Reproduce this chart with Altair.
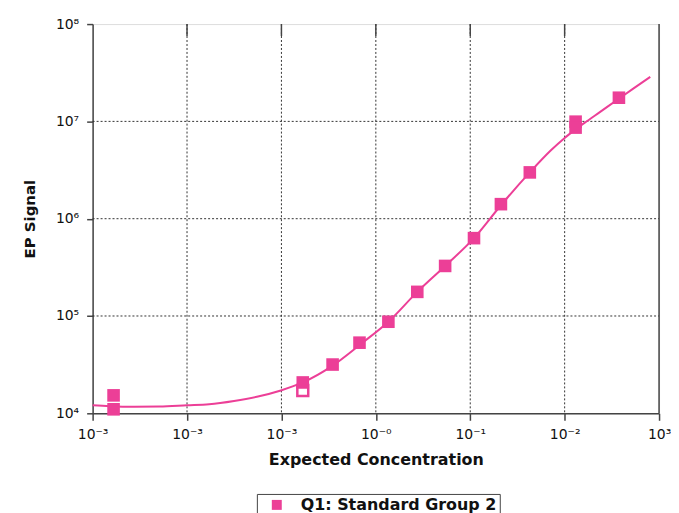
import altair as alt
import pandas as pd

PINK = "#EC3F97"
FONT = "DejaVu Sans"

# axis ticks and their printed labels (as they appear in the reference)
x_ticks = [1e-3, 1e-2, 1e-1, 1, 10, 100, 1000]
x_tick_labels = ["10⁻³", "10⁻³", "10⁻³", "10⁻⁰", "10⁻¹", "10⁻²", "10³"]
y_ticks = [1e4, 1e5, 1e6, 1e7, 1e8]
y_tick_labels = ["10⁴", "10⁵", "10⁶", "10⁷", "10⁸"]

series_name = "Q1: Standard Group 2"

# measured standards (filled squares)
pt_x = [0.001667, 0.001667, 0.1683, 0.3483, 0.6714, 1.358, 2.748, 5.42,
        10.96, 21.13, 42.76, 130.6, 130.6, 375.8]
pt_y = [15290, 10990, 20750, 31700, 53200, 87300, 177000, 327000,
        631000, 1410000, 2990000, 9930000, 8630000, 17500000]

# excluded standard (hollow square)
hollow_x = [0.1683]
hollow_y = [17180]

# fitted curve
curve_x = [0.001, 0.00151, 0.00277, 0.00509, 0.01, 0.01714, 0.0315, 0.055,
           0.0986, 0.1683, 0.3483, 0.6887, 1.358, 2.748, 5.42, 10.96, 21.13,
           42.76, 71.1, 100, 127.4, 162.4, 239.9, 362, 547, 807]
curve_y = [12080, 11850, 11710, 11740, 12080, 12370, 13370, 14790,
           17180, 20750, 30900, 51300, 87300, 177000, 327000, 631000,
           1374000, 2990000, 5010000, 6760000, 8130000, 9660000, 12600000,
           16700000, 22100000, 28700000]

pts = pd.DataFrame({"x": pt_x, "y": pt_y, "series": [series_name] * len(pt_x)})
hollow = pd.DataFrame({"x": hollow_x, "y": hollow_y})
curve = pd.DataFrame({"x": curve_x, "y": curve_y})
xgrid = pd.DataFrame({"x": x_ticks[1:-1]})
ygrid = pd.DataFrame({"y": y_ticks[1:-1]})
xright = pd.DataFrame({"x": x_ticks[-1:]})

W, H = 569, 391

xlab_expr = "[" + ",".join("'%s'" % s for s in x_tick_labels) + "][round(log(datum.value)/LN10)+3]"
ylab_expr = "[" + ",".join("'%s'" % s for s in y_tick_labels) + "][round(log(datum.value)/LN10)-4]"

xscale = alt.Scale(type="log", domain=[1e-3, 1e3], nice=False)
yscale = alt.Scale(type="log", domain=[1e4, 1e8], nice=False)

xaxis = alt.Axis(values=x_ticks, labelExpr=xlab_expr, title="Expected Concentration",
                 grid=False, tickSize=7, tickColor="#444", domainColor="#444",
                 domainWidth=1.5, tickWidth=1.5, labelPadding=7, labelFontSize=14,
                 labelFont=FONT, labelColor="#111", titleFont=FONT, titleFontSize=16,
                 titleFontWeight="bold", titleColor="#111", titlePadding=10,
                 labelFlush=False, labelOverlap=False, labelBound=False)
yaxis = alt.Axis(values=y_ticks, labelExpr=ylab_expr, title="EP Signal",
                 grid=False, tickSize=6, tickColor="#444", domainColor="#444",
                 domainWidth=1.5, tickWidth=1.5, labelPadding=8, labelFontSize=14,
                 labelFont=FONT, labelColor="#111", titleFont=FONT, titleFontSize=15,
                 titleFontWeight="bold", titleColor="#111", titlePadding=18,
                 labelFlush=False, labelOverlap=False, labelBound=False)


def X():
    return alt.X("x:Q", scale=xscale, axis=xaxis)


def Y():
    return alt.Y("y:Q", scale=yscale, axis=yaxis)


vgrid = alt.Chart(xgrid).mark_rule(color="#333", strokeDash=[2, 2], strokeWidth=1).encode(
    x=X(), y=alt.value(0), y2=alt.value(H))
hgrid = alt.Chart(ygrid).mark_rule(color="#333", strokeDash=[2, 2], strokeWidth=1).encode(
    y=Y(), x=alt.value(0), x2=alt.value(W))
topticks = alt.Chart(xgrid).mark_rule(color="#444", strokeWidth=1.5).encode(
    x=X(), y=alt.value(0), y2=alt.value(12))
rborder = alt.Chart(xright).mark_rule(color="#444", strokeWidth=1.5).encode(
    x=X(), y=alt.value(0), y2=alt.value(H))

line = alt.Chart(curve).mark_line(color=PINK, strokeWidth=2, interpolate="monotone").encode(
    x=X(), y=Y())

hol = alt.Chart(hollow).mark_square(size=120, filled=False, stroke=PINK, fill="white",
                                     strokeWidth=2.5, opacity=1).encode(x=X(), y=Y())

filled = alt.Chart(pts).mark_square(size=160, opacity=1).encode(
    x=X(), y=Y(),
    color=alt.Color("series:N", scale=alt.Scale(range=[PINK]),
                    legend=alt.Legend(title=None, orient="none", legendX=165, legendY=472,
                                      strokeColor="#444", padding=3, symbolSize=100,
                                      symbolOffset=9, symbolType="square", labelFont=FONT,
                                      labelFontSize=16, labelFontWeight="bold",
                                      labelColor="#111", labelOffset=16, labelLimit=500,
                                      symbolOpacity=1)))

chart = alt.layer(vgrid, hgrid, topticks, rborder, line, hol, filled).properties(
    width=W, height=H,
    autosize=alt.AutoSizeParams(type="none"),
    padding={"left": 85, "top": 15, "right": 12, "bottom": 99},
).configure_view(stroke="#bbbbbb", strokeWidth=1).configure(background="white")

chart.save("out.html", embed_options={"renderer": "svg", "actions": False})
